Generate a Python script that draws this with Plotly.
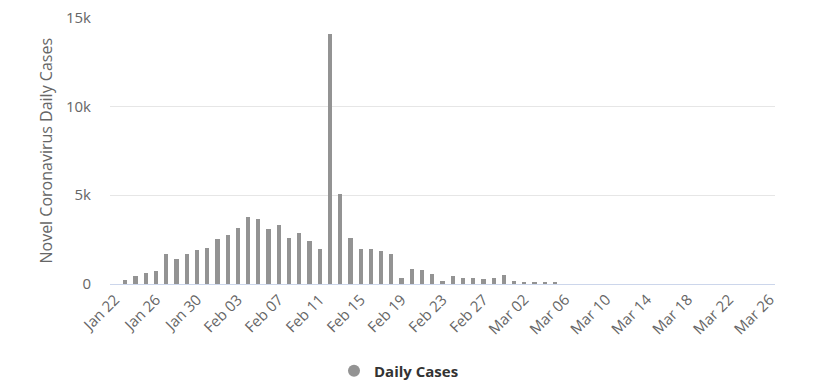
import plotly.graph_objects as go
import pandas as pd

# ---- data ----
start_date = "2020-01-22"
end_date = "2020-03-26"
daily_cases = [
    0, 230, 430, 640, 710, 1690, 1400, 1690, 1890, 2020,          # Jan 22 - Jan 31
    2530, 2740, 3170, 3800, 3650, 3090, 3320, 2600, 2890, 2400,   # Feb 01 - Feb 10
    1970, 14050, 5075, 2600, 1970, 1970, 1840, 1690, 360, 850,    # Feb 11 - Feb 20
    790, 560, 150, 430, 360, 360, 280, 360, 510,                  # Feb 21 - Feb 29
    170, 95, 75, 75, 75,                                          # Mar 01 - Mar 05
    0, 0, 0, 0, 0, 0, 0, 0, 0, 0, 0, 0, 0, 0, 0, 0, 0, 0, 0, 0, 0  # Mar 06 - Mar 26
]
y_tick_values = [0, 5000, 10000, 15000]
y_tick_labels = ["0", "5k", "10k", "15k"]
series_name = "Daily Cases"
y_title = "Novel Coronavirus Daily Cases"

dates = pd.date_range(start_date, end_date, freq="D")
x_tick_dates = dates[::4]
x_tick_labels = [d.strftime("%b %d") for d in x_tick_dates]

DAY_MS = 86400000
bar_color = "#939393"
font_family = "Open Sans, Lato, sans-serif"

fig = go.Figure()
fig.add_trace(go.Bar(
    x=dates, y=daily_cases, name=series_name,
    marker=dict(color=bar_color, line=dict(width=0)),
    width=0.42 * DAY_MS, showlegend=False,
))
# legend entry with a circle symbol (Highcharts style)
fig.add_trace(go.Scatter(
    x=[None], y=[None], mode="markers", name=series_name,
    marker=dict(color=bar_color, size=14, symbol="circle"),
    showlegend=True,
))

# page body has an 8px default margin, so margins are reduced by 8px
fig.update_layout(
    width=818, height=391,
    margin=dict(l=102, r=51, t=9, b=115, autoexpand=False),
    plot_bgcolor="white", paper_bgcolor="white",
    font=dict(family=font_family, color="#666666", size=15),
    legend=dict(
        orientation="h", xref="container", x=0.478, xanchor="center",
        y=-0.326, yanchor="middle",
        font=dict(size=15, color="#333333", family=font_family, weight=700),
        itemsizing="constant",
    ),
    bargap=0,
)
fig.update_xaxes(
    type="date",
    range=[pd.Timestamp(start_date) - pd.Timedelta(hours=12),
           pd.Timestamp(end_date) + pd.Timedelta(hours=12)],
    tickvals=x_tick_dates, ticktext=x_tick_labels,
    tickangle=-45, tickfont=dict(size=15, color="#666666"),
    showgrid=False, showline=True, linecolor="#ccd6eb", linewidth=1,
    ticks="", zeroline=False,
)
fig.update_yaxes(
    range=[0, 15030],
    tickvals=y_tick_values, ticktext=y_tick_labels,
    tickfont=dict(size=15, color="#666666"),
    ticklabeloverflow="allow",
    showgrid=True, gridcolor="#e6e6e6", gridwidth=1,
    zeroline=False, showline=False, ticks="",
    ticklabelstandoff=18,
)
# y-axis title as rotated annotation
fig.add_annotation(
    text=y_title, textangle=-90,
    xref="paper", yref="paper", x=-0.0977, y=0.5,
    xanchor="center", yanchor="middle", showarrow=False,
    font=dict(size=16, color="#666666", family=font_family),
)

fig.write_html("out.html")
